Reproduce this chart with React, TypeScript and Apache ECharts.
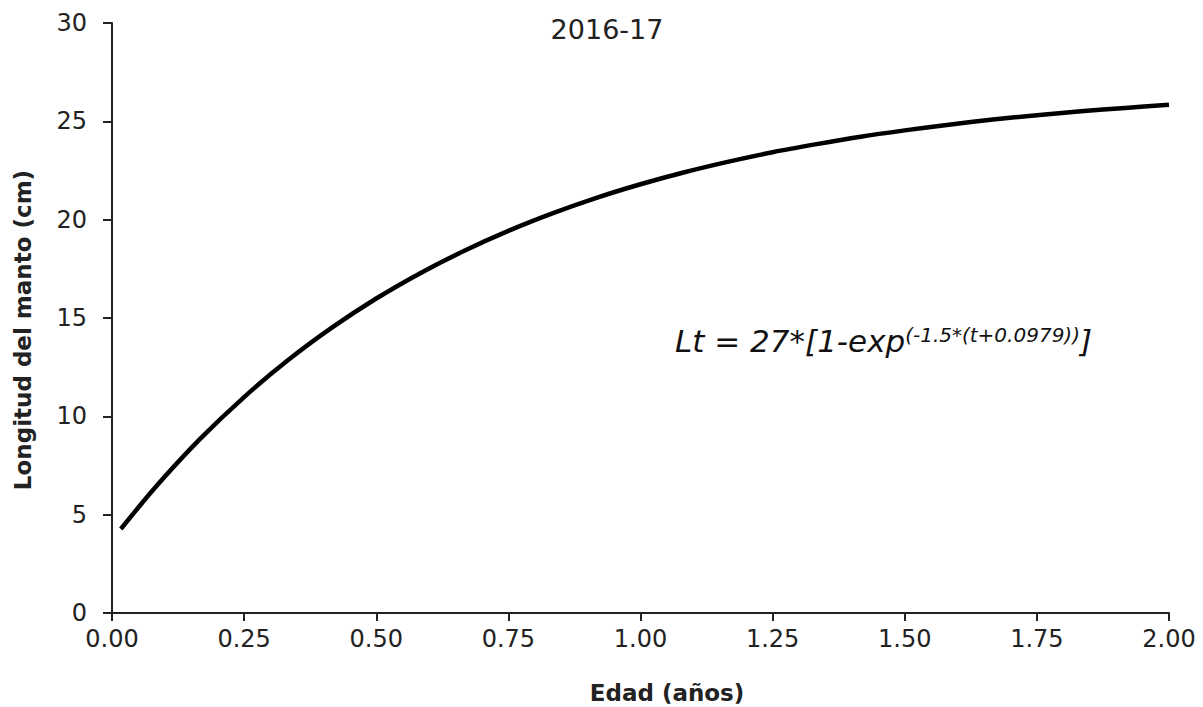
import React, { useEffect, useRef } from "react";
import * as echarts from "echarts";

const ages = [0.0167, 0.0833, 0.1667, 0.25, 0.3333, 0.4167, 0.5, 0.5833, 0.6667, 0.75, 0.8333, 0.9167, 1.0, 1.0833, 1.1667, 1.25, 1.3333, 1.4167, 1.5, 1.5833, 1.6667, 1.75, 1.8333, 1.9167, 2.0];
const lengths = [4.27, 6.43, 8.85, 10.98, 12.86, 14.52, 15.99, 17.28, 18.42, 19.43, 20.32, 21.11, 21.8, 22.41, 22.95, 23.43, 23.84, 24.22, 24.54, 24.83, 25.09, 25.31, 25.51, 25.68, 25.84];
const title = "2016-17";
const xTitle = "Edad (años)";
const yTitle = "Longitud del manto (cm)";
const eqMain = "Lt = 27*[1-exp";
const eqSup = "(-1.5*(t+0.0979))";
const eqEnd = "]";

export default function App() {
  const ref = useRef<HTMLDivElement>(null);
  useEffect(() => {
    const chart = echarts.init(ref.current!, null, { renderer: "svg" });
    const font = "'DejaVu Sans', sans-serif";
    chart.setOption({
      animation: false,
      backgroundColor: "#fff",
      textStyle: { fontFamily: font },
      title: {
        text: title,
        left: 602,
        top: 11,
        textAlign: "center",
        textStyle: { fontSize: 27, fontWeight: "normal", color: "#222", fontFamily: font },
      },
      grid: { left: 112, right: 34, top: 23, bottom: 94 },
      xAxis: {
        type: "value",
        min: 0,
        max: 2,
        interval: 0.25,
        axisLine: { show: true, onZero: false, lineStyle: { color: "#222", width: 2 } },
        axisTick: { show: true, length: 8, lineStyle: { color: "#222", width: 2 } },
        axisLabel: { fontSize: 24, color: "#222", margin: 14, formatter: (v: number) => v.toFixed(2) },
        splitLine: { show: false },
      },
      yAxis: {
        type: "value",
        min: 0,
        max: 30,
        interval: 5,
        axisLine: { show: true, lineStyle: { color: "#222", width: 2 } },
        axisTick: { show: true, length: 9, lineStyle: { color: "#222", width: 2 } },
        axisLabel: { fontSize: 24, color: "#222", margin: 25 },
        splitLine: { show: false },
      },
      series: [
        {
          type: "line",
          data: ages.map((a, i) => [a, lengths[i]]),
          showSymbol: false,
          smooth: 0.3,
          lineStyle: { color: "#000", width: 4.5 },
        },
      ],
      graphic: [
        {
          type: "text",
          x: 667,
          y: 693,
          style: {
            text: xTitle,
            fontSize: 23,
            fontWeight: "bold",
            fontFamily: font,
            fill: "#222",
            align: "center",
            verticalAlign: "middle",
          },
        },
        {
          type: "text",
          x: 23,
          y: 330,
          rotation: Math.PI / 2,
          style: {
            text: yTitle,
            fontSize: 23,
            fontWeight: "bold",
            fontFamily: font,
            fill: "#222",
            align: "center",
            verticalAlign: "middle",
          },
        },
        {
          type: "text",
          x: 675,
          y: 341,
          style: {
            text: `{m|${eqMain}}{s|${eqSup}}{m|${eqEnd}}`,
            verticalAlign: "middle",
            rich: {
              m: { fontSize: 31, fontStyle: "italic", fill: "#111", fontFamily: font, lineHeight: 36 },
              s: { fontSize: 20, fontStyle: "italic", fill: "#111", fontFamily: font, verticalAlign: "top", lineHeight: 20, padding: [2, 0, 0, 0] },
            },
          },
        },
      ],
    });
    return () => chart.dispose();
  }, []);
  return <div ref={ref} style={{ width: 1203, height: 707, position: "absolute", left: 0, top: 0 }} />;
}
